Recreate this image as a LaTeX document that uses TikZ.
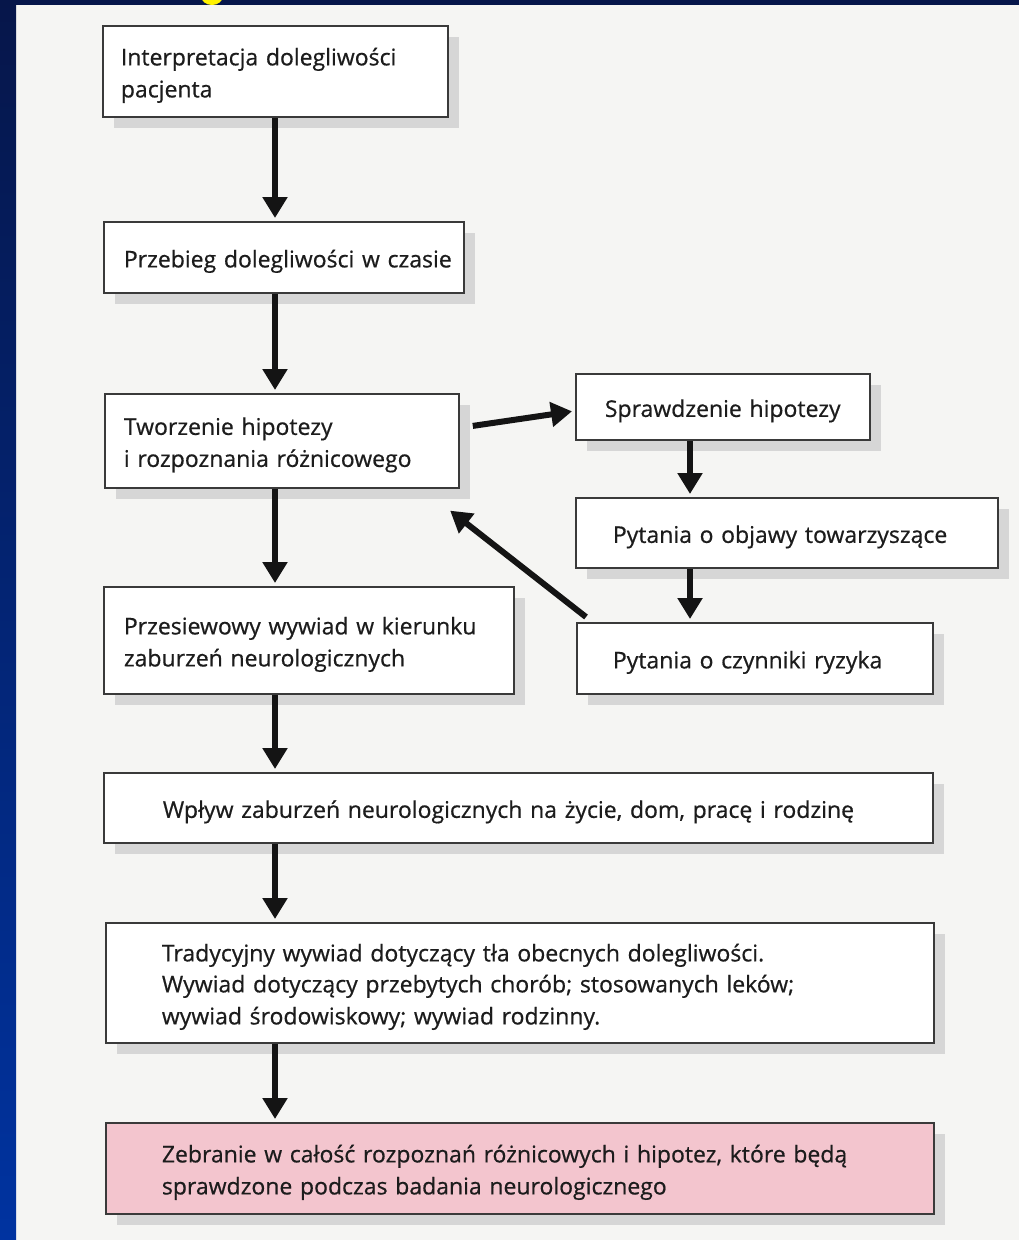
\documentclass[tikz,border=0pt]{standalone}
\usepackage{fontspec}
\setmainfont[FakeBold=0.6]{Open Sans}
\usetikzlibrary{arrows.meta,shadows}
\definecolor{tlo}{HTML}{F5F5F3}
\definecolor{granat}{HTML}{06164A}
\definecolor{niebieski}{HTML}{0033A0}
\definecolor{ramka}{HTML}{3A3A3A}
\definecolor{roz}{HTML}{F3C5CE}
\definecolor{tekst}{HTML}{1C1C1C}
\newcommand{\podp}{\rule[-5.5pt]{0pt}{31pt}}

\begin{document}
\begin{tikzpicture}[x=1pt,y=-1pt,
    krok/.style={draw=ramka,line width=1.8pt,fill=white,anchor=north west,inner ysep=0pt,
      align=left,text=tekst,font=\fontsize{23}{31}\selectfont,
      execute at begin node=\podp,execute at end node=\podp,
      drop shadow={shadow xshift=11pt,shadow yshift=-11pt,fill=black!16,opacity=1}},
    strz/.style={line width=6pt,draw=black!92,-{Triangle[width=24pt,length=21pt]},shorten >=3pt}]
      \fill[tlo] (0,0) rectangle (1019,1240);
      \shade[top color=granat,bottom color=niebieski] (0,0) rectangle (16,1240);
      \fill[granat] (0,0) rectangle (1019,5);
      \begin{scope}
        \clip (0,0) rectangle (1019,5);
        \fill[yellow] (212,-4) ellipse[x radius=11,y radius=9];
      \end{scope}
      \node[krok,text width=309pt,inner xsep=18pt,minimum height=91pt] (interp) at (102,25) {Interpretacja dolegliwości\\pacjenta};
      \node[krok,text width=320pt,inner xsep=20pt,minimum height=71pt] (przebieg) at (103,221) {\mbox{Przebieg dolegliwości w czasie}};
      \node[krok,text width=316pt,inner xsep=19pt,minimum height=94pt] (hipo) at (104,393) {Tworzenie hipotezy\\i rozpoznania różnicowego};
      \node[krok,text width=370pt,inner xsep=20pt,minimum height=107pt] (przesiew) at (103,586) {Przesiewowy wywiad w kierunku\\zaburzeń neurologicznych};
      \node[krok,text width=236pt,inner xsep=29pt,minimum height=66pt] (spraw) at (575,373) {Sprawdzenie hipotezy};
      \node[krok,text width=348pt,inner xsep=37pt,minimum height=70pt] (objawy) at (575,497) {Pytania o objawy towarzyszące};
      \node[krok,text width=284pt,inner xsep=36pt,minimum height=71pt] (ryzyko) at (576,622) {Pytania o czynniki ryzyka};
      \node[krok,text width=711pt,inner xsep=59pt,minimum height=70pt] (wplyw) at (103,772) {Wpływ zaburzeń neurologicznych na życie, dom, pracę i rodzinę};
      \node[krok,text width=716pt,inner xsep=56pt,minimum height=120pt] (tradycja) at (105,922) {Tradycyjny wywiad dotyczący tła obecnych dolegliwości.\\Wywiad dotyczący przebytych chorób; stosowanych leków;\\wywiad środowiskowy; wywiad rodzinny.};
      \node[krok,fill=roz,text width=716pt,inner xsep=56pt,minimum height=91pt] (zebranie) at (105,1122) {Zebranie w całość rozpoznań różnicowych i hipotez, które będą\\sprawdzone podczas badania neurologicznego};
      \coordinate (lewa) at (275,0);
      \coordinate (prawa) at (690,0);
      \draw[strz] (interp.south -| lewa) -- (przebieg.north -| lewa);
      \draw[strz] (przebieg.south -| lewa) -- (hipo.north -| lewa);
      \draw[strz] (hipo.south -| lewa) -- (przesiew.north -| lewa);
      \draw[strz] (przesiew.south -| lewa) -- (wplyw.north -| lewa);
      \draw[strz] (wplyw.south -| lewa) -- (tradycja.north -| lewa);
      \draw[strz] (tradycja.south -| lewa) -- (zebranie.north -| lewa);
      \draw[strz] (spraw.south -| prawa) -- (objawy.north -| prawa);
      \draw[strz] (objawy.south -| prawa) -- (ryzyko.north -| prawa);
      \draw[strz] ([shift={(13,-15)}]hipo.east) -- ([shift={(0,4)}]spraw.west);
      \draw[strz] ([shift={(10,-5)}]ryzyko.north west) -- ([shift={(-12,20)}]hipo.south east);
\end{tikzpicture}
\end{document}
